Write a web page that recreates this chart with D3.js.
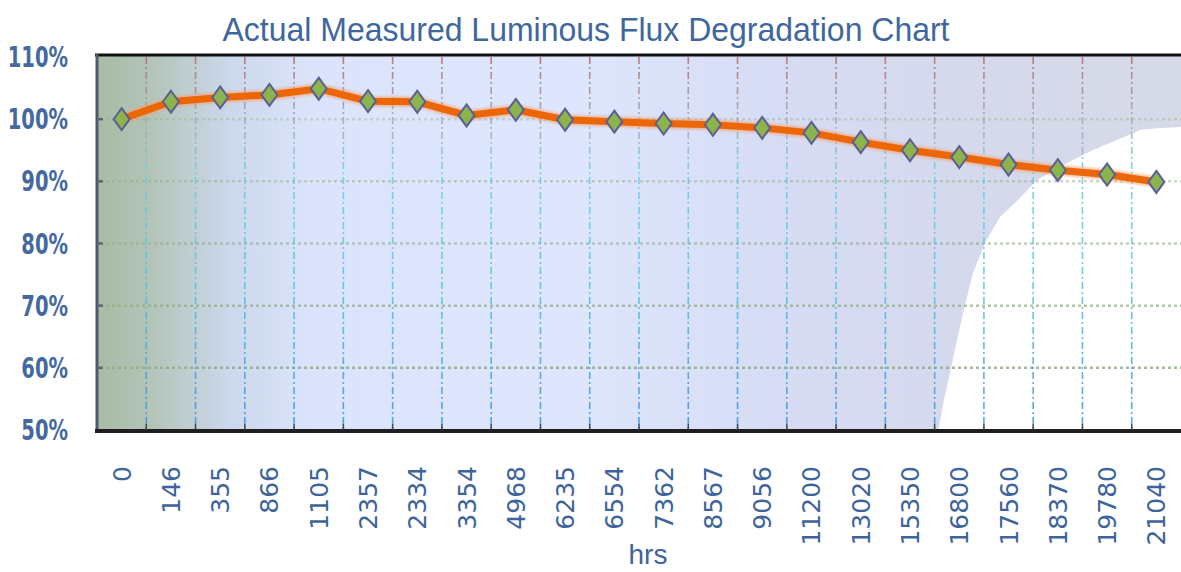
<!doctype html>
<html>
<head>
	<meta charset='utf-8'/>
	<script src="https://d3js.org/d3.v7.min.js"></script>
	<style>
		body { margin: 0; background: #fff; }
		text { font-family: "DejaVu Sans", sans-serif; fill: #3d649c; }
	</style>
</head>
<body>
	<div id='chart'></div>
	<script>
		// hours (as written on the chart) and measured flux, in %
		var hours = ["0", "146", "355", "866", "1105", "2357", "2334", "3354", "4968", "6235", "6554",
			"7362", "8567", "9056", "11200", "13020", "15350", "16800", "17560", "18370", "19780", "21040"];
		var flux = [100, 102.8, 103.5, 103.9, 104.9, 102.9, 102.8, 100.6, 101.5, 99.9, 99.6,
			99.3, 99.1, 98.6, 97.8, 96.3, 95.0, 93.9, 92.7, 91.8, 91.1, 89.9];
		var yTicks = [50, 60, 70, 80, 90, 100, 110];

		var width = 1181, height = 572;
		var plotL = 97, plotR = 1181, plotT = 57, plotB = 430;

		var svg = d3.select("#chart").append("svg")
			.attr("width", width)
			.attr("height", height);

		var x = d3.scaleBand().domain(hours).range([plotL, plotR]);
		var y = d3.scaleLinear().domain([50, 110]).range([plotB, plotT]);

		var defs = svg.append("defs");
		var bg = defs.append("linearGradient").attr("id", "bg")
			.attr("gradientUnits", "userSpaceOnUse")
			.attr("x1", plotL).attr("x2", plotR).attr("y1", 0).attr("y2", 0);
		[[0, "#a8bba4"], [0.05, "#b3c4b8"], [0.12, "#cbd7ea"], [0.2, "#dbe4fb"], [0.45, "#dde6fc"],
		 [0.62, "#d6dcf4"], [0.8, "#d5d9ec"], [1, "#d6d9e7"]].forEach(function(s) {
			bg.append("stop").attr("offset", s[0]).attr("stop-color", s[1]);
		});

		var vg = defs.append("linearGradient").attr("id", "vgrid")
			.attr("gradientUnits", "userSpaceOnUse")
			.attr("x1", 0).attr("x2", 0).attr("y1", plotT).attr("y2", plotB);
		[[0, "#b46a72"], [0.08, "#a78890"], [0.18, "#a3aab2"], [0.3, "#6fcde0"], [0.6, "#4cc6e6"], [1, "#3a8fe0"]]
			.forEach(function(s) {
				vg.append("stop").attr("offset", s[0]).attr("stop-color", s[1]);
			});

		var glow = defs.append("filter").attr("id", "glow")
			.attr("x", "-5%").attr("y", "-50%").attr("width", "110%").attr("height", "200%");
		glow.append("feGaussianBlur").attr("stdDeviation", 1.2);

		// plot background
		svg.append("rect")
			.attr("x", plotL).attr("y", plotT - 2)
			.attr("width", plotR - plotL).attr("height", plotB - plotT + 2)
			.attr("fill", "url(#bg)");

		// white glare in the lower right corner
		var glare = [[938, 432], [944, 400], [950, 373], [957, 340], [963, 313], [973, 273], [985, 243],
			[1000, 217], [1018, 200], [1037, 180], [1067, 163], [1093, 150], [1117, 140], [1140, 130],
			[1160, 128], [1181, 127], [1181, 432]];
		svg.append("path")
			.attr("d", d3.line()(glare) + "Z")
			.attr("fill", "#ffffff");

		// horizontal grid
		svg.selectAll(".hgrid")
			.data(yTicks.filter(function(d) { return d > 50 && d < 110; }))
			.enter().append("line")
			.attr("x1", plotL + 3).attr("x2", plotR)
			.attr("y1", function(d) { return y(d); })
			.attr("y2", function(d) { return y(d); })
			.attr("stroke", "#8fae84")
			.attr("stroke-width", 2.5)
			.attr("stroke-dasharray", "3,3")
			.attr("opacity", function(d) { return 0.35 + (100 - d) * 0.012; });

		// vertical grid, between the categories
		svg.selectAll(".vgrid")
			.data(hours.slice(1))
			.enter().append("line")
			.attr("x1", function(d) { return x(d); })
			.attr("x2", function(d) { return x(d); })
			.attr("y1", plotT).attr("y2", plotB)
			.attr("stroke", "url(#vgrid)")
			.attr("stroke-width", 1.6)
			.attr("stroke-dasharray", "7,3,2,3")
			.attr("opacity", 0.85);

		// frame
		svg.append("line")
			.attr("x1", plotL - 2).attr("x2", plotR).attr("y1", plotT - 2).attr("y2", plotT - 2)
			.attr("stroke", "#111").attr("stroke-width", 3);
		svg.append("line")
			.attr("x1", plotL).attr("x2", plotL).attr("y1", plotT - 3).attr("y2", plotB)
			.attr("stroke", "#4d5a6e").attr("stroke-width", 3);
		svg.append("line")
			.attr("x1", plotL - 2).attr("x2", plotR).attr("y1", plotB + 1).attr("y2", plotB + 1)
			.attr("stroke", "#1e1e1e").attr("stroke-width", 4);

		// ticks
		svg.selectAll(".ytick")
			.data(yTicks.filter(function(d) { return d > 50 && d < 110; }))
			.enter().append("line")
			.attr("x1", plotL).attr("x2", plotL + 6)
			.attr("y1", function(d) { return y(d); })
			.attr("y2", function(d) { return y(d); })
			.attr("stroke", "#5a6578").attr("stroke-width", 2.5);
		svg.selectAll(".xtick")
			.data(hours.slice(1))
			.enter().append("line")
			.attr("x1", function(d) { return x(d); })
			.attr("x2", function(d) { return x(d); })
			.attr("y1", plotB - 6).attr("y2", plotB)
			.attr("stroke", "#444").attr("stroke-width", 1.5);

		// y labels
		svg.selectAll(".ylab")
			.data(yTicks)
			.enter().append("text")
			.attr("transform", function(d) { return "translate(68," + (y(d) + 10) + ") scale(0.78,1.1)"; })
			.attr("text-anchor", "end")
			.style("font-size", "25px")
			.style("font-weight", "bold")
			.style("fill", "#4369a0")
			.text(function(d) { return d + "%"; });

		// x labels
		svg.selectAll(".xlab")
			.data(hours)
			.enter().append("text")
			.attr("transform", function(d) {
				return "translate(" + (x(d) + x.bandwidth() / 2 + 9) + ",466) rotate(-90)";
			})
			.attr("text-anchor", "end")
			.style("font-size", "25px")
			.style("fill", "#3d649c")
			.text(function(d) { return d; });

		// line
		var line = d3.line()
			.x(function(d, i) { return x(hours[i]) + x.bandwidth() / 2; })
			.y(function(d) { return y(d); });
		svg.append("path")
			.datum(flux)
			.attr("d", line)
			.attr("fill", "none")
			.attr("stroke", "#f4a070")
			.attr("stroke-width", 11)
			.attr("opacity", 0.6)
			.attr("filter", "url(#glow)");
		svg.append("path")
			.datum(flux)
			.attr("d", line)
			.attr("fill", "none")
			.attr("stroke", "#ec6606")
			.attr("stroke-width", 7);

		// diamond markers
		svg.selectAll(".pt")
			.data(flux)
			.enter().append("path")
			.attr("transform", function(d, i) {
				return "translate(" + (x(hours[i]) + x.bandwidth() / 2) + "," + y(d) + ")";
			})
			.attr("d", "M0,-11L8,0L0,11L-8,0Z")
			.attr("fill", "#8cb44c")
			.attr("stroke", "#5b5f96")
			.attr("stroke-width", 2);

		// title and axis name
		svg.append("text")
			.attr("x", 586).attr("y", 41)
			.attr("text-anchor", "middle")
			.attr("textLength", 727)
			.attr("lengthAdjust", "spacingAndGlyphs")
			.style("font-family", "'Liberation Sans', Arial, sans-serif")
			.style("font-size", "34px")
			.style("fill", "#3f679e")
			.text("Actual Measured Luminous Flux Degradation Chart");
		svg.append("text")
			.attr("x", 648).attr("y", 564)
			.attr("text-anchor", "middle")
			.style("font-family", "'Liberation Sans', Arial, sans-serif")
			.style("font-size", "28px")
			.style("fill", "#3d649c")
			.text("hrs");
	</script>
</body>
</html>
